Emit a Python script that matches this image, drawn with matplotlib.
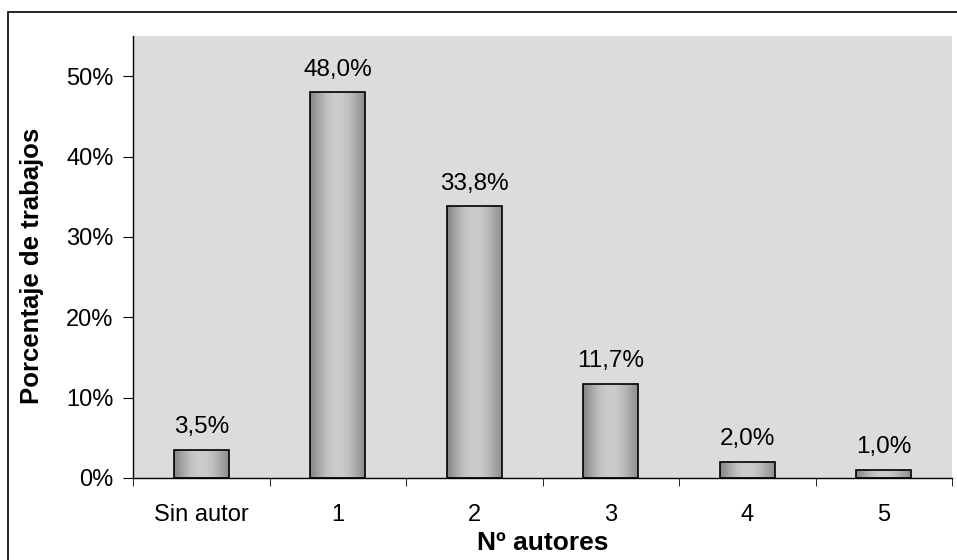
import matplotlib
matplotlib.use("Agg")
import matplotlib.pyplot as plt
import numpy as np
from matplotlib.patches import Rectangle

categories = ["Sin autor", "1", "2", "3", "4", "5"]
values = [3.5, 48.0, 33.8, 11.7, 2.0, 1.0]
labels = ["3,5%", "48,0%", "33,8%", "11,7%", "2,0%", "1,0%"]
yticks = [0, 10, 20, 30, 40, 50]
ytick_labels = ["0%", "10%", "20%", "30%", "40%", "50%"]

plt.rcParams['font.family'] = ['Liberation Sans', 'DejaVu Sans']

fig = plt.figure(figsize=(9.57, 5.6), dpi=100)
W, H = 957, 560
# outer border
fig.patches.append(Rectangle((8 / W, -0.1), 1.2, (H - 12) / H + 0.1, transform=fig.transFigure,
                             fill=False, edgecolor='black', linewidth=1.2))
ax = fig.add_axes([133 / W, (H - 478) / H, (952 - 133) / W, (478 - 36) / H])
ax.set_facecolor('#DCDCDC')

x = np.arange(len(categories))
width = 0.4
bars = ax.bar(x, values, width=width, color='none', edgecolor='black', linewidth=1.2, zorder=3)

# horizontal gradient inside bars
grad = np.array([0.52, 0.60, 0.68, 0.75, 0.79, 0.80, 0.79, 0.75, 0.69, 0.62, 0.56])
gx = np.linspace(0, 1, 200)
gv = np.interp(gx, np.linspace(0, 1, len(grad)), grad)
img = np.tile(gv, (2, 1))
for b in bars:
    x0, y0 = b.get_x(), b.get_y()
    w, h = b.get_width(), b.get_height()
    im = ax.imshow(img, cmap='gray', vmin=0, vmax=1, extent=[x0, x0 + w, y0, y0 + h],
                   aspect='auto', zorder=2, interpolation='bilinear')
    im.set_clip_path(b)

for xi, v, lab in zip(x, values, labels):
    ax.annotate(lab, (xi, v), xytext=(0, 12), textcoords='offset points',
                ha='center', va='baseline', fontsize=17.5)

ax.set_xlim(-0.5, len(categories) - 0.5)
ax.set_ylim(0, 55)
ax.set_yticks(yticks)
ax.set_yticklabels(ytick_labels, fontsize=17)
ax.set_xticks(x)
ax.set_xticklabels(categories, fontsize=17)
ax.tick_params(axis='x', length=0, pad=19)
ax.set_xticks(np.arange(len(categories) + 1) - 0.5, minor=True)
ax.tick_params(axis='x', which='minor', length=6, direction='out')
ax.tick_params(axis='y', length=7, direction='out', pad=7)

for s in ['top', 'right']:
    ax.spines[s].set_visible(False)
ax.spines['left'].set_linewidth(1.0)
ax.spines['bottom'].set_linewidth(1.0)

ax.set_xlabel("Nº autores", fontsize=19, fontweight='bold', labelpad=3)
ax.set_ylabel("Porcentaje de trabajos", fontsize=18.5, fontweight='bold', labelpad=16)
ax.yaxis.label.set_y(0.48)

fig.savefig("out.png", dpi=100)
